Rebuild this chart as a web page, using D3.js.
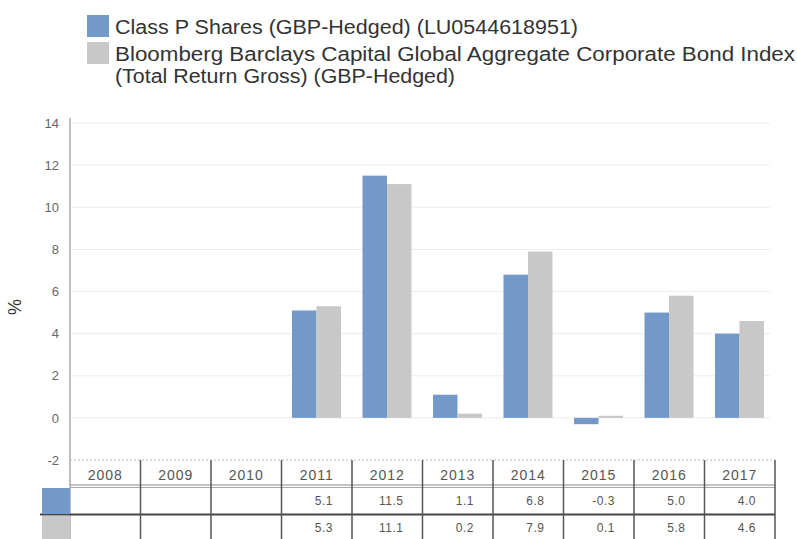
<!DOCTYPE html>
<html><head><meta charset="utf-8">
<script src="https://cdn.jsdelivr.net/npm/d3@7"></script>
<style>
body{margin:0;background:#fff;}
svg{display:block;font-family:"Liberation Sans",Arial,sans-serif;}
</style></head>
<body><svg id="c" width="797" height="539"></svg>
<script>
const years = ["2008","2009","2010","2011","2012","2013","2014","2015","2016","2017"];
const fundValues = [null,null,null,5.1,11.5,1.1,6.8,-0.3,5.0,4.0];
const indexValues = [null,null,null,5.3,11.1,0.2,7.9,0.1,5.8,4.6];
const seriesNames = ["Class P Shares (GBP-Hedged) (LU0544618951)",
  "Bloomberg Barclays Capital Global Aggregate Corporate Bond Index",
  "(Total Return Gross) (GBP-Hedged)"];
const yTicks = [-2,0,2,4,6,8,10,12,14];
const colors = ["#7299c8","#c8c8c8"];

const svg = d3.select("#c");
const left = 70, right = 775;
const x = d3.scaleBand().domain(years).range([left,right]).padding(0);
const y = d3.scaleLinear().domain([-2,14]).range([460,123]);
const inner = d3.scaleBand().domain([0,1]).range([10.5, x.bandwidth()-11]).padding(0);
const hy = s => s.replace("\u2212","-");

// legend
const lg = svg.append("g");
lg.append("rect").attr("x",87).attr("y",15).attr("width",22).attr("height",22).attr("fill",colors[0]);
lg.append("rect").attr("x",87).attr("y",42).attr("width",22).attr("height",22).attr("fill",colors[1]);
lg.append("text").attr("x",115).attr("y",34).attr("font-size",20).attr("fill","#333")
  .attr("textLength",463).attr("lengthAdjust","spacingAndGlyphs").text(seriesNames[0]);
lg.append("text").attr("x",115).attr("y",61).attr("font-size",20).attr("fill","#333")
  .attr("textLength",680).attr("lengthAdjust","spacingAndGlyphs").text(seriesNames[1]);
lg.append("text").attr("x",115).attr("y",83).attr("font-size",20).attr("fill","#333")
  .attr("textLength",340).attr("lengthAdjust","spacingAndGlyphs").text(seriesNames[2]);

// y label
svg.append("text").attr("transform","translate(21,307) rotate(-90)").attr("text-anchor","middle")
  .attr("font-size",18).attr("fill","#333").text("%");

// gridlines
svg.append("g").selectAll("line").data(yTicks.filter(d=>d>-2)).join("line")
  .attr("x1",left+2).attr("x2",right-5).attr("y1",d=>y(d)).attr("y2",d=>y(d))
  .attr("stroke","#ececec").attr("stroke-width",1);

// axis
const ax = svg.append("g").attr("transform",`translate(${left},0)`)
  .call(d3.axisLeft(y).tickValues(yTicks).tickSize(0).tickPadding(11).tickFormat(d=>hy(d3.format("d")(d))));
ax.select(".domain").remove();
ax.selectAll("text").attr("font-size",13).attr("fill","#666").attr("font-family","Liberation Sans, Arial, sans-serif");
svg.append("line").attr("x1",left).attr("x2",left).attr("y1",118).attr("y2",539).attr("stroke","#aaa").attr("stroke-width",1.5);

// bars
const series = [fundValues,indexValues];
series.forEach((vals,si)=>{
  svg.append("g").selectAll("rect").data(years.map((yr,i)=>({yr,v:vals[i]})).filter(d=>d.v!==null)).join("rect")
    .attr("x",d=>x(d.yr)+inner(si)).attr("width",inner.bandwidth())
    .attr("y",d=>y(Math.max(0,d.v))).attr("height",d=>Math.max(1,Math.abs(y(d.v)-y(0))))
    .attr("fill",colors[si]);
});

// table
const tg = svg.append("g");
tg.append("line").attr("x1",left).attr("x2",right).attr("y1",460).attr("y2",460)
  .attr("stroke","#bbb").attr("stroke-dasharray","2,2");
tg.append("line").attr("x1",left).attr("x2",right).attr("y1",485).attr("y2",485).attr("stroke","#888").attr("stroke-width",1);
tg.append("line").attr("x1",left).attr("x2",right).attr("y1",487.5).attr("y2",487.5).attr("stroke","#aaa").attr("stroke-width",1);
tg.append("line").attr("x1",40).attr("x2",right).attr("y1",514.5).attr("y2",514.5).attr("stroke","#444").attr("stroke-width",2);
tg.selectAll("line.v").data(years).join("line").attr("class","v")
  .attr("x1",d=>x(d)+x.bandwidth()).attr("x2",d=>x(d)+x.bandwidth())
  .attr("y1",460).attr("y2",539).attr("stroke","#555").attr("stroke-width",1.5);
tg.append("rect").attr("x",42).attr("y",488).attr("width",28).attr("height",26).attr("fill",colors[0]);
tg.append("rect").attr("x",42).attr("y",516).attr("width",28).attr("height",23).attr("fill",colors[1]);
tg.selectAll("text.yr").data(years).join("text").attr("class","yr")
  .attr("x",d=>x(d)+x.bandwidth()/2).attr("y",480).attr("text-anchor","middle")
  .attr("font-size",14).attr("letter-spacing",1).attr("fill","#555").text(d=>d);
series.forEach((vals,si)=>{
  tg.append("g").selectAll("text").data(years.map((yr,i)=>({yr,v:vals[i]})).filter(d=>d.v!==null)).join("text")
    .attr("x",d=>x(d.yr)+x.bandwidth()-19).attr("y",si===0?505:532).attr("text-anchor","end")
    .attr("font-size",12).attr("letter-spacing",0.5).attr("fill","#555").text(d=>hy(d3.format(".1f")(d.v)));
});
</script></body></html>
